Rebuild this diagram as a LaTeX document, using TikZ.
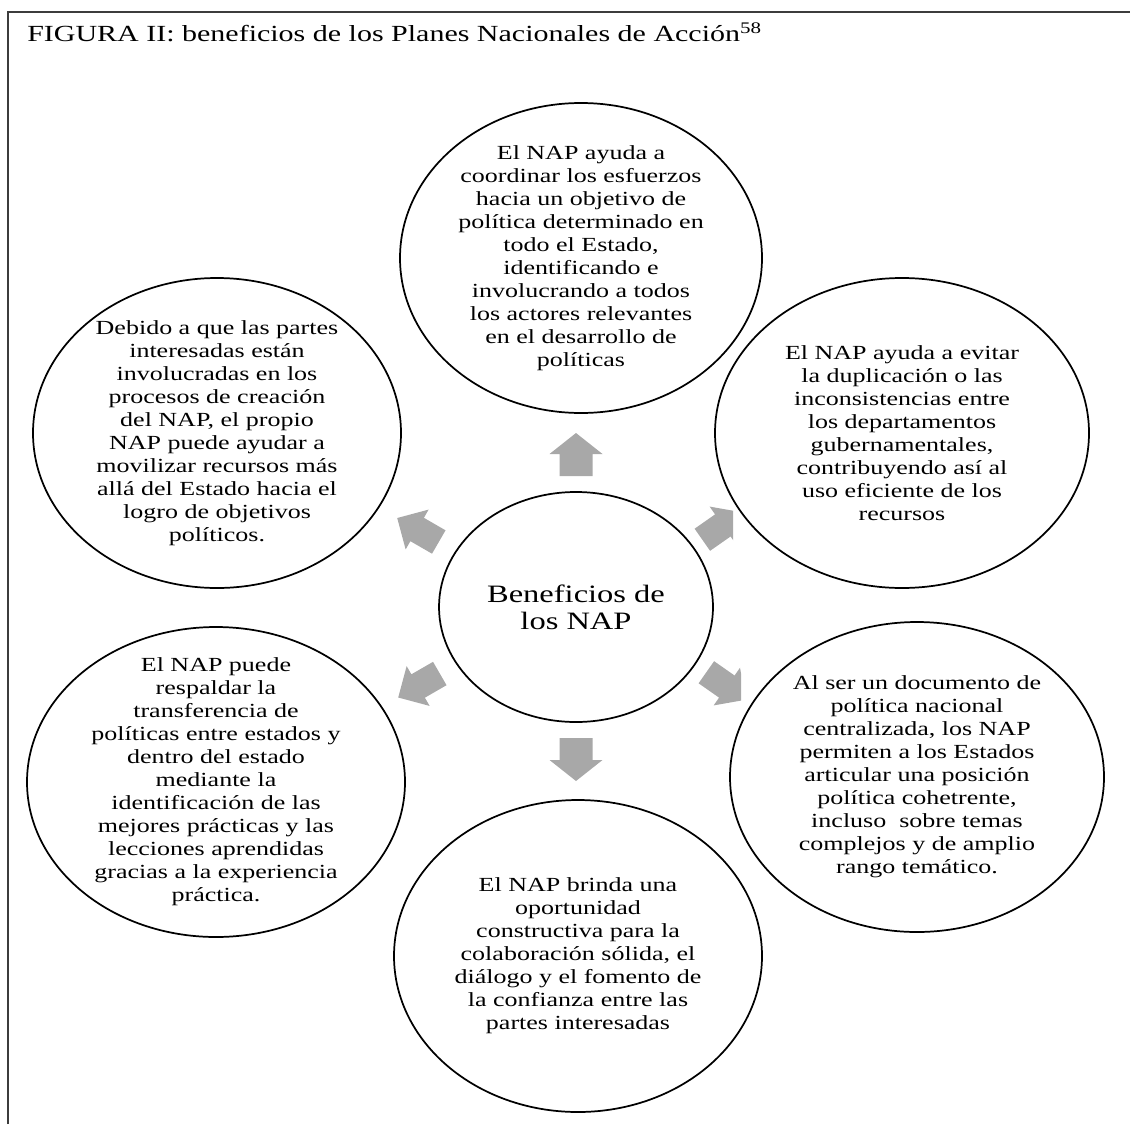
\documentclass[tikz,border=0pt]{standalone}
\usepackage{fontspec}
\setmainfont{Liberation Serif}[FakeStretch=1.3]
\usetikzlibrary{shapes.geometric}
\definecolor{arrowgray}{RGB}{168,168,168}
\definecolor{framegray}{RGB}{60,60,60}
\tikzset{
  bub/.style={draw=black, line width=1.3pt, ellipse, inner sep=0pt, fill=none},
  txt/.style={align=center, inner sep=0pt, font=\fontsize{15pt}{17.25pt}\selectfont},
  ctxt/.style={align=center, inner sep=0pt, font=\fontsize{18.75pt}{20pt}\selectfont},
  blk/.style={fill=arrowgray, draw=none},
}
\newcommand{\bigarrow}[2]{% center, angle
  \fill[blk, shift={#1}, rotate=#2] (-21.5,-16.5) -- (0.5,-16.5) -- (0.5,-26.5) -- (21.5,0) -- (0.5,26.5) -- (0.5,16.5) -- (-21.5,16.5) -- cycle;}
\newcommand{\smallarrow}[2]{%
  \fill[blk, shift={#1}, rotate=#2] (-24,-13.5) -- (1,-13.5) -- (1,-23) -- (24,0) -- (1,23) -- (1,13.5) -- (-24,13.5) -- cycle;}
\begin{document}
\begin{tikzpicture}[x=0.75pt, y=-0.75pt]
\useasboundingbox (0,0) rectangle (1130,1124);
% frame
\draw[framegray, line width=0.9pt] (8,1124) -- (8,12) -- (1130,12);
% title
\node[anchor=base west, inner sep=0pt, font=\fontsize{17.3pt}{20pt}\selectfont] (title) at (27,42) {FIGURA II: beneficios de los Planes Nacionales de Acción\textsuperscript{58}};

% bubbles
\node[bub, minimum width=205.5pt, minimum height=172.5pt] (c) at (576,607) {};
\node[ctxt] (ct) at (c) {Beneficios de\\los NAP};

\node[bub, minimum width=271.5pt, minimum height=232.5pt] (t) at (581,258) {};
\node[txt] (tt) at (t) {El NAP ayuda a\\coordinar los esfuerzos\\hacia un objetivo de\\política determinado en\\todo el Estado,\\identificando e\\involucrando a todos\\los actores relevantes\\en el desarrollo de\\políticas};

\node[bub, minimum width=276pt, minimum height=232.5pt] (lt) at (217,433) {};
\node[txt] (ltt) at (lt) {Debido a que las partes\\interesadas están\\involucradas en los\\procesos de creación\\del NAP, el propio\\NAP puede ayudar a\\movilizar recursos más\\allá del Estado hacia el\\logro de objetivos\\políticos.};

\node[bub, minimum width=280.5pt, minimum height=232.5pt] (rt) at (902,433) {};
\node[txt] (rtt) at (rt) {El NAP ayuda a evitar\\la duplicación o las\\inconsistencias entre\\los departamentos\\gubernamentales,\\contribuyendo así al\\uso eficiente de los\\recursos};

\node[bub, minimum width=283.5pt, minimum height=232.5pt] (lb) at (216,782) {};
\node[txt] (lbt) at (lb) {El NAP puede\\respaldar la\\transferencia de\\políticas entre estados y\\dentro del estado\\mediante la\\identificación de las\\mejores prácticas y las\\lecciones aprendidas\\gracias a la experiencia\\práctica.};

\node[bub, minimum width=280.5pt, minimum height=232.5pt] (rb) at (917,777) {};
\node[txt] (rbt) at (rb) {Al ser un documento de\\política nacional\\centralizada, los NAP\\permiten a los Estados\\articular una posición\\política cohetrente,\\incluso\ \ sobre temas\\complejos y de amplio\\rango temático.};

\node[bub, minimum width=276pt, minimum height=234pt] (b) at (578,956) {};
\node[txt] (bt) at (b) {El NAP brinda una\\oportunidad\\constructiva para la\\colaboración sólida, el\\diálogo y el fomento de\\la confianza entre las\\partes interesadas};

% arrows
\bigarrow{(576,454.5)}{90}
\bigarrow{(576,759.5)}{-90}
\smallarrow{(418,530)}{150}
\smallarrow{(419,685.5)}{-150}
\begin{scope}
  \clip (600,480) rectangle (733,580);
  \smallarrow{(722,526)}{35}
\end{scope}
\begin{scope}
  \clip (600,630) rectangle (741,730);
  \smallarrow{(726,686)}{-35}
\end{scope}
\end{tikzpicture}
\end{document}
